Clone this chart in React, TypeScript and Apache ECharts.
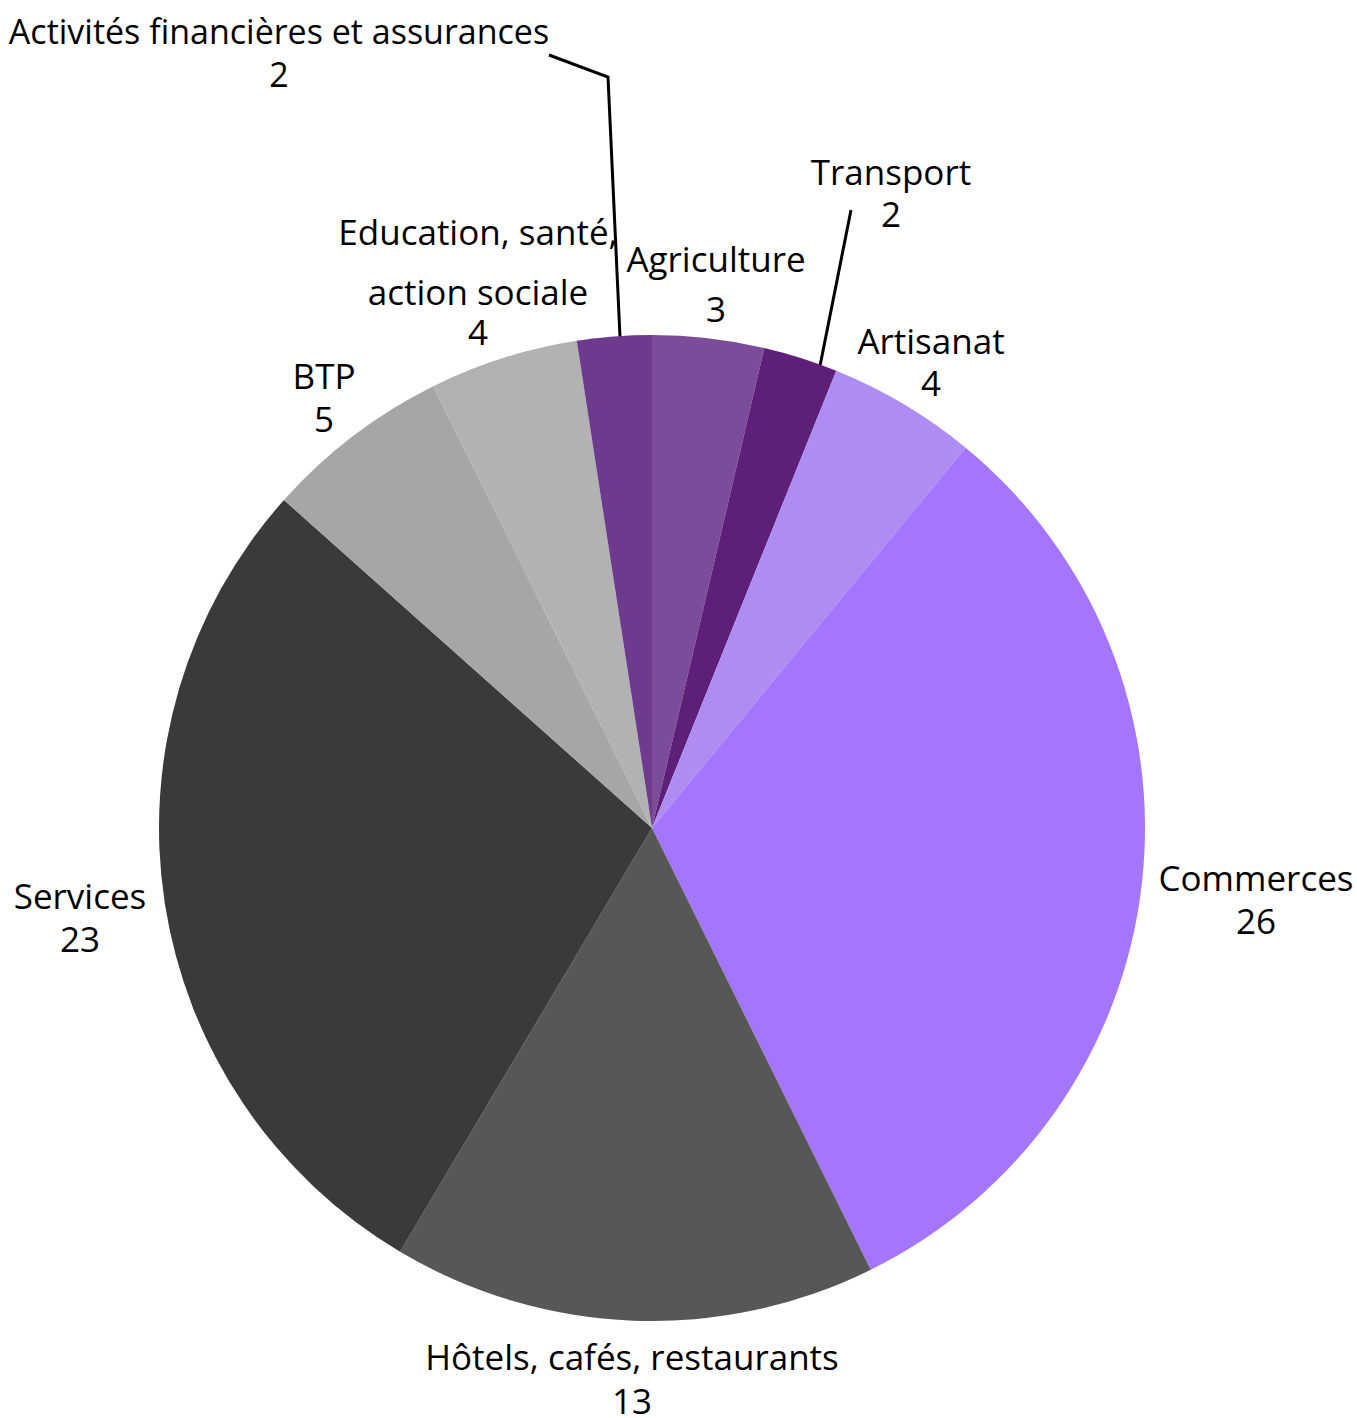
import React, { useEffect, useRef } from "react";
import * as echarts from "echarts";

const categories = [
  "Agriculture",
  "Transport",
  "Artisanat",
  "Commerces",
  "Hôtels, cafés, restaurants",
  "Services",
  "BTP",
  "Education, santé,\naction sociale",
  "Activités financières et assurances",
];
const values = [3, 2, 4, 26, 13, 23, 5, 4, 2];
const colors = [
  "#7c4c9a",
  "#5d1f78",
  "#ad8df2",
  "#a476fd",
  "#575756",
  "#3a3a3a",
  "#a6a6a6",
  "#b2b2b2",
  "#6e3a8e",
];
const labelStyle = ["g", "n", "n", "w", "h", "w", "w", "e", "f"];
const withLine = [false, true, false, false, false, false, false, false, true];

// label anchor centres (layout)
const labelPos: [number, number][] = [
  [716, 283],
  [891, 192],
  [931, 361],
  [1256, 899],
  [632, 1372],
  [80, 917],
  [324, 397],
  [478, 271],
  [279, 52],
];
const linePts: Record<number, [number, number][]> = {
  1: [
    [851, 210],
    [851, 210],
    [820, 366],
  ],
  8: [
    [549, 55],
    [608, 77],
    [620, 337],
  ],
};

const base = {
  fontFamily: "Open Sans",
  fontSize: 35,
  color: "#000",
  align: "center" as const,
};

export default function App() {
  const ref = useRef<HTMLDivElement>(null);
  useEffect(() => {
    document.body.style.margin = "0";
    const chart = echarts.init(ref.current!, null, { renderer: "svg" });
    const data = categories.map((name, i) => {
      const s = labelStyle[i];
      let formatter = `{${s}|{b}}\n{${s}|{c}}`;
      if (s === "e") formatter = "{a|Education, santé,}\n{b|action sociale}\n{b|{c}}";
      if (s === "h") formatter = "{h|{b}}\n{k|{c}}";
      return {
        name,
        value: values[i],
        itemStyle: { color: colors[i] },
        label: { formatter },
        labelLine: { show: withLine[i] },
      };
    });
    chart.setOption({
      animation: false,
      series: [
        {
          type: "pie",
          center: [652, 828],
          radius: 493,
          startAngle: 90,
          clockwise: true,
          avoidLabelOverlap: false,
          data,
          label: {
            show: true,
            position: "outside",
            color: "#000",
            align: "center",
            rich: {
              w: { ...base, lineHeight: 43 },
              h: { ...base, lineHeight: 56 },
              k: { ...base, lineHeight: 32 },
              n: { ...base, lineHeight: 42 },
              f: { ...base, fontSize: 34, lineHeight: 43 },
              g: { ...base, lineHeight: 50 },
              a: { ...base, lineHeight: 80 },
              b: { ...base, lineHeight: 40 },
            },
          },
          labelLine: {
            lineStyle: { color: "#000", width: 3 },
          },
          labelLayout: (params: any) => {
            const i = params.dataIndex;
            const p = labelPos[i];
            const out: any = {
              x: p[0],
              y: p[1],
              align: "center",
              verticalAlign: "middle",
            };
            if (linePts[i]) out.labelLinePoints = linePts[i];
            return out;
          },
        },
      ],
    });
    return () => chart.dispose();
  }, []);
  return <div ref={ref} style={{ width: 1357, height: 1418 }} />;
}
